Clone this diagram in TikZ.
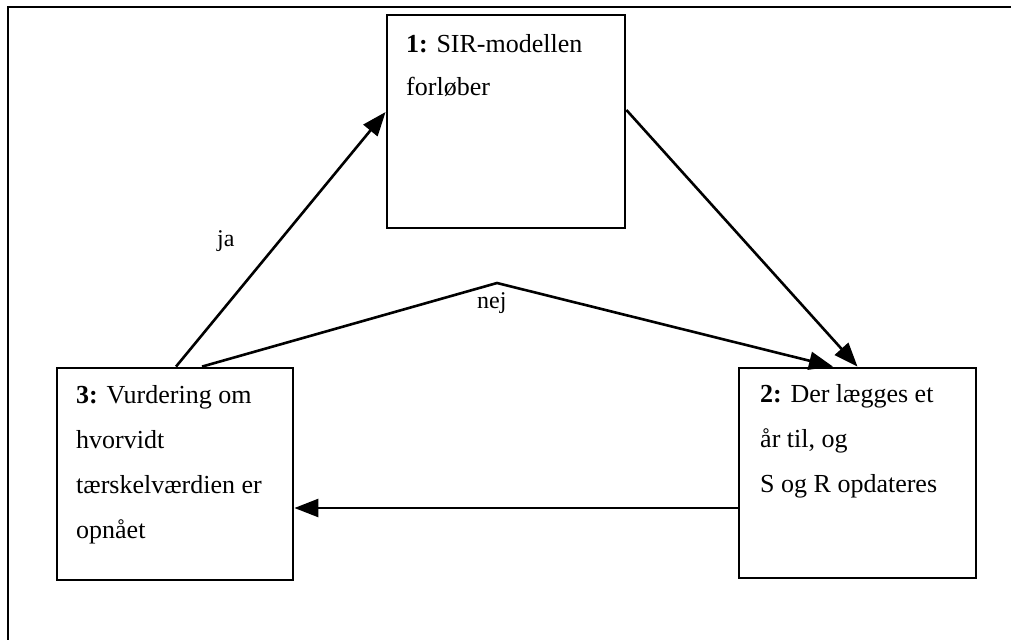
\documentclass[tikz,border=0pt]{standalone}
\usepackage{fontspec}
\setmainfont{Liberation Serif}
\usetikzlibrary{arrows.meta}

\tikzset{
  stepbox/.style={draw, line width=2.8pt, rectangle, inner sep=0pt},
  boxtext/.style={anchor=base west, inner sep=0pt, font=\fontsize{26}{45}\selectfont},
  edgelabel/.style={anchor=base west, inner sep=0pt, font=\fontsize{24}{28}\selectfont},
  flow/.style={line width=2.6pt, line join=miter, -{Triangle[length=24pt,width=18pt]}},
}

\newcommand{\stacklines}[2]{\vtop{\baselineskip=#1\relax #2}}

\begin{document}
\begin{tikzpicture}[x=1pt,y=-1pt]
  \useasboundingbox (0,0) rectangle (1011,640);

  % surrounding frame (open to the right and bottom)
  \draw[line width=2.4pt] (1011,7) -- (8,7) -- (8,640);

  % the three steps of the cycle
  \node[stepbox, minimum width=238pt, minimum height=213pt] (b1) at (506,121.5) {};
  \node[stepbox, minimum width=237pt, minimum height=210pt] (b2) at (857.5,473) {};
  \node[stepbox, minimum width=236pt, minimum height=212pt] (b3) at (175,474) {};

  \node[boxtext] (t1) at (406,52) {\stacklines{43pt}{%
      \hbox{\textbf{1:} SIR-modellen}%
      \hbox{forløber}}};
  \node[boxtext] (t2) at (760,402) {\stacklines{45pt}{%
      \hbox{\textbf{2:} Der lægges et}%
      \hbox{år til, og}%
      \hbox{S og R opdateres}}};
  \node[boxtext] (t3) at (76,403) {\stacklines{45pt}{%
      \hbox{\textbf{3:} Vurdering om}%
      \hbox{hvorvidt}%
      \hbox{tærskelværdien er}%
      \hbox{opnået}}};

  % connectors
  \coordinate (apex) at (497,283);
  \draw[flow] ([xshift=1pt]b3.north) -- ([yshift=9.5pt]b1.west);
  \draw[flow] ([yshift=11.5pt]b1.east) -- (b2.north);
  \draw[flow] ([xshift=27pt]b3.north) -- (apex) -- ([xshift=-24.5pt]b2.north);
  \draw[flow] ([yshift=-35pt]b2.west) -- ([yshift=-34pt]b3.east);

  % decisions
  \node[edgelabel] (ja) at (217,246) {ja};
  \node[edgelabel] (nej) at (477,308) {nej};
\end{tikzpicture}
\end{document}
